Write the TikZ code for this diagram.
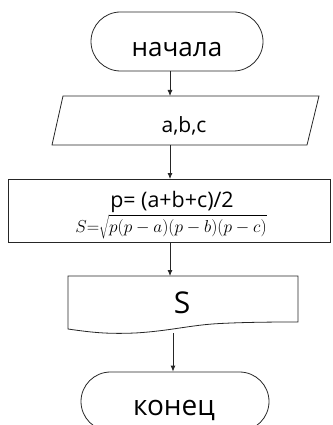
\documentclass[tikz,border=0pt]{standalone}
\usepackage{fontspec}
\setmainfont{Open Sans}
\usetikzlibrary{shapes.misc,arrows.meta,calc}
\begin{document}
\begin{tikzpicture}[x=1pt,y=-1pt,
  line/.style={draw=black!85, line width=0.8pt},
  arr/.style={line, -{Latex[length=6pt,width=5pt]}},
  term/.style={line, rounded rectangle, minimum width=#1, minimum height=59pt, inner sep=0pt},
  frame/.style={inner sep=0pt, outer sep=0pt},
  lbl/.style={anchor=base, inner sep=0pt, text=black}]
\useasboundingbox (0,0) rectangle (332,425);
\clip (0,0) rectangle (332,425);
% start terminal
\node[term=172pt] (start) at (177,41.5) {};
\node[lbl, font=\fontsize{26}{26}\selectfont] (tstart) at (177,57) {начала};
% input
\node[frame, minimum width=267pt, minimum height=49pt] (io) at (185.5,120.5) {};
\draw[line] ($(io.north west)+(11,0)$) -- (io.north east) -- ($(io.south east)+(-12,0)$) -- (io.south west) -- cycle;
\node[lbl, font=\fontsize{21}{21}\selectfont] (tio) at (184,132) {a,b,c};
% process
\node[line, frame, rectangle, minimum width=322pt, minimum height=63pt] (proc) at (169,210.5) {};
\node[lbl, font=\fontsize{21.4}{22}\selectfont] (tp) at (172,207) {p= (a+b+c)/2};
\node[lbl, font=\fontsize{16}{18}\selectfont] (tf) at (171,232) {$S{=}\sqrt{p(p-a)(p-b)(p-c)}$};
% document
\node[frame, minimum width=230pt, minimum height=57pt] (doc) at (183,304.5) {};
\draw[line] (68,276) -- (298,276) -- (298,322) .. controls (280,322) and (250,322) .. (220,323.5) .. controls (190,325) and (170,331) .. (135,333) .. controls (110,334) and (95,333) .. (68,329) -- cycle;
\node[lbl, font=\fontsize{30}{30}\selectfont] (ts) at (182,313) {S};
% end terminal
\node[term=188pt] (end) at (175,401.5) {};
\node[lbl, font=\fontsize{28}{28}\selectfont] (tend) at (174,415) {конец};
% connectors
\coordinate (c1) at (170,0);
\coordinate (c2) at (173,0);
\draw[arr] (start.south -| c1) -- (io.north -| c1);
\draw[arr] (io.south -| c1) -- (proc.north -| c1);
\draw[arr] (proc.south -| c1) -- (doc.north -| c1);
\draw[arr] (doc.south -| c2) -- (end.north -| c2);
\end{tikzpicture}
\end{document}
